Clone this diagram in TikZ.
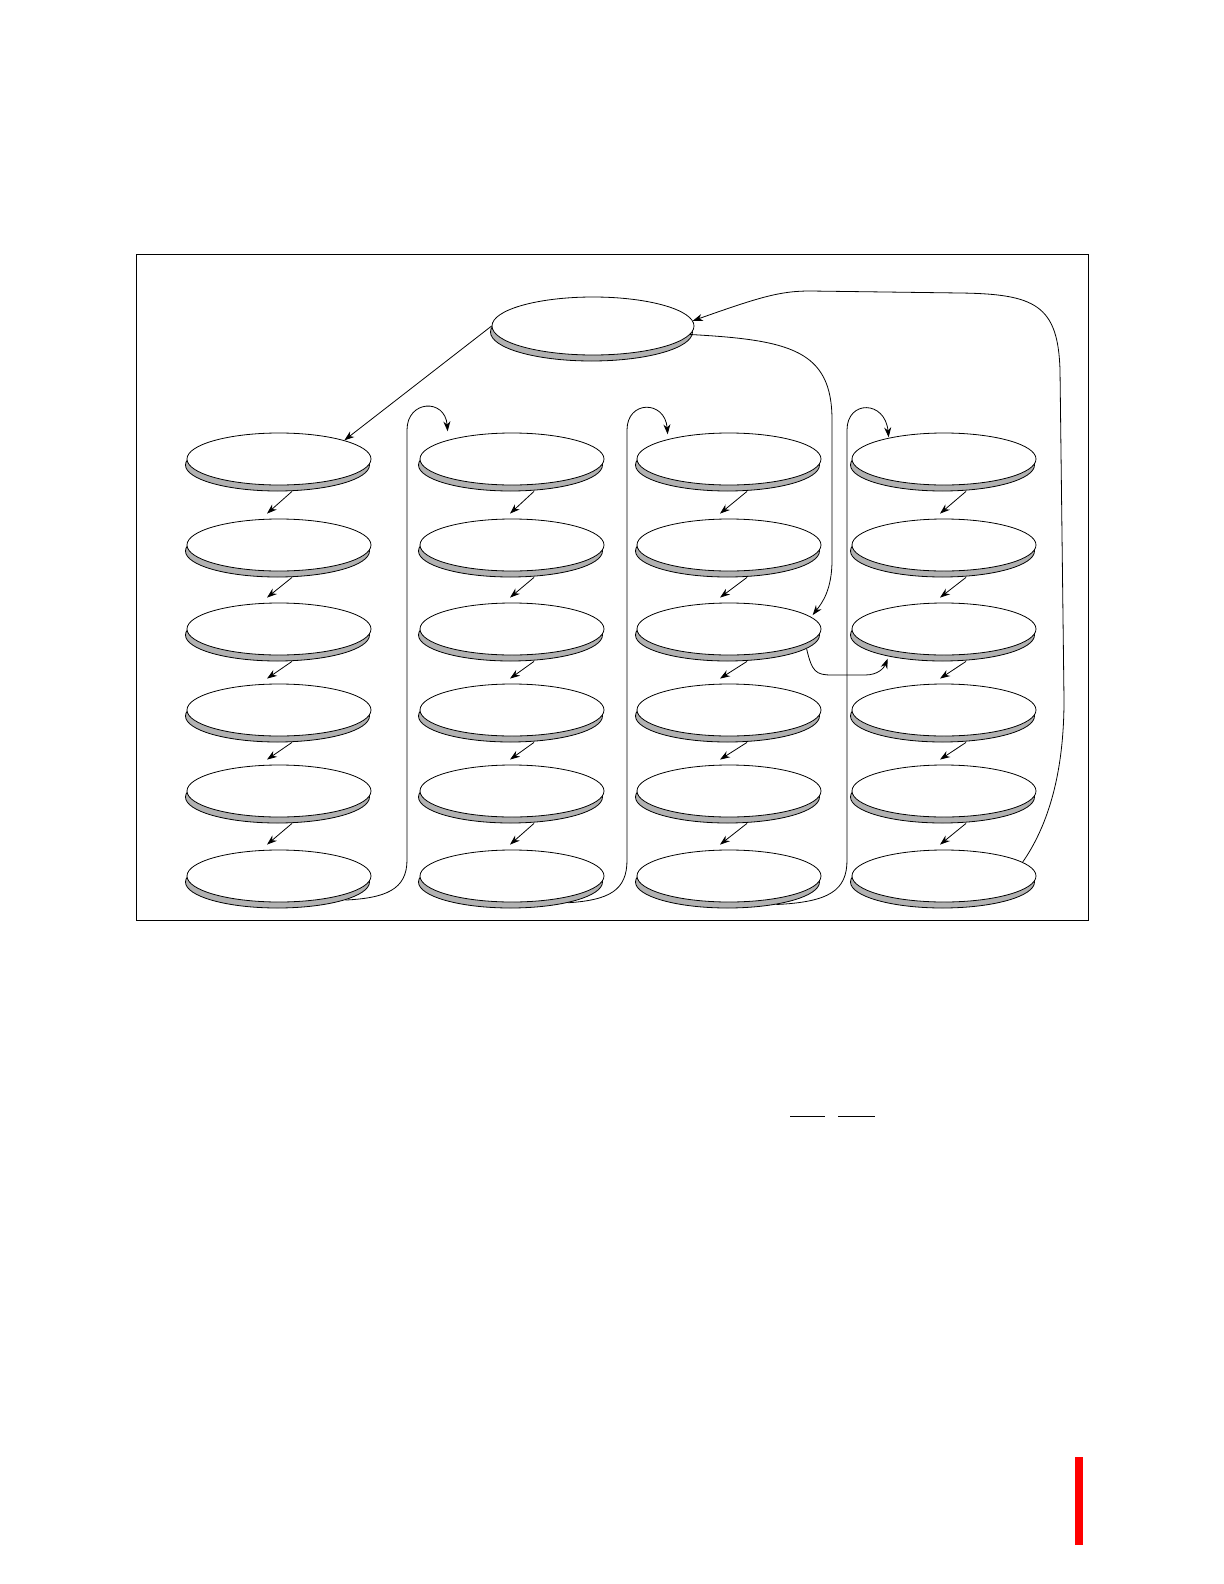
\documentclass[tikz,border=0pt]{standalone}
\usetikzlibrary{arrows.meta,shapes.geometric,shadows,calc}

\tikzset{
  disk/.style={ellipse, draw, fill=white, inner sep=0pt,
    minimum width=92pt, minimum height=26pt,
    copy shadow={shadow xshift=-0.75pt, shadow yshift=-3pt, fill=black!30, draw=black}},
  topdisk/.style={disk, minimum width=101pt, minimum height=29pt},
  link/.style={-{Stealth[length=5pt,width=3.5pt]}},
  steplink/.style={link, thin},
}

\begin{document}
\begin{tikzpicture}[x=0.5pt,y=-0.5pt]
  \useasboundingbox (0,0) rectangle (1224,1584);

  \draw (136,254) rectangle (1088,920);

  % disks
  \node[topdisk] (top) at (593,326) {};
  \foreach \col/\x in {1/279,2/512,3/729,4/944}
    \foreach \row/\y in {1/459,2/545,3/629,4/710,5/791,6/876}
      \node[disk] (d\row\col) at (\x,\y) {};

  % down each column
  \foreach \col/\dx/\ex in {1/13/-12,2/22/-2,3/18/-9,4/22/-4}
    \foreach \row [count=\next from 2] in {1,...,5}
      \draw[steplink] ($(d\row\col.south)+(\dx,6)$) -- ($(d\next\col.north)+(\ex,-5)$);

  % from the top disk
  \draw[link] (top.west) -- (d11.north east);
  \draw[link] (top.-5) .. controls (790,340) and (832,350) .. (832,420)
    -- (832,560) .. controls (832,590) and (822,603) .. ($(d33.10)+(5,0)$);

  % from the foot of one column to the head of the next
  \draw[link] ($(d61.-15)+(-1,6)$) .. controls (385,898) and (407,890) .. (407,860)
    -- (407,430) .. controls (407,400) and (445,398) .. ($(d12.north west)+(1,-9)$);
  \draw[link] ($(d62.-20)+(-1,6)$) .. controls (610,900) and (627,890) .. (627,860)
    -- (627,430) .. controls (627,400) and (665,400) .. ($(d13.north west)+(4,-6)$);
  \draw[link] ($(d63.-25)+(-1,6)$) .. controls (830,902) and (847,890) .. (847,860)
    -- (847,430) .. controls (847,400) and (885,400) .. ($(d14.north west)+(10,-3)$);

  % across and back up
  \draw[link] ($(d33.-10)+(-1,6)$) .. controls (812,672) and (816,675) .. (832,675)
    -- (865,675) .. controls (878,675) and (884,668) .. ($(d34.south west)+(9,11)$);
  \draw[link] (d64.10) .. controls (1045,830) and (1064,780) .. (1064,700)
    -- (1060,370) .. controls (1058,305) and (1035,294) .. (960,293)
    -- (810,291) .. controls (780,291) and (760,297) .. (top.3);

  % bars below the frame
  \draw (790,1116) -- (825,1116);
  \draw (838,1116) -- (875,1116);
  \fill[red] (1075,1457) rectangle (1083,1545);
\end{tikzpicture}
\end{document}
